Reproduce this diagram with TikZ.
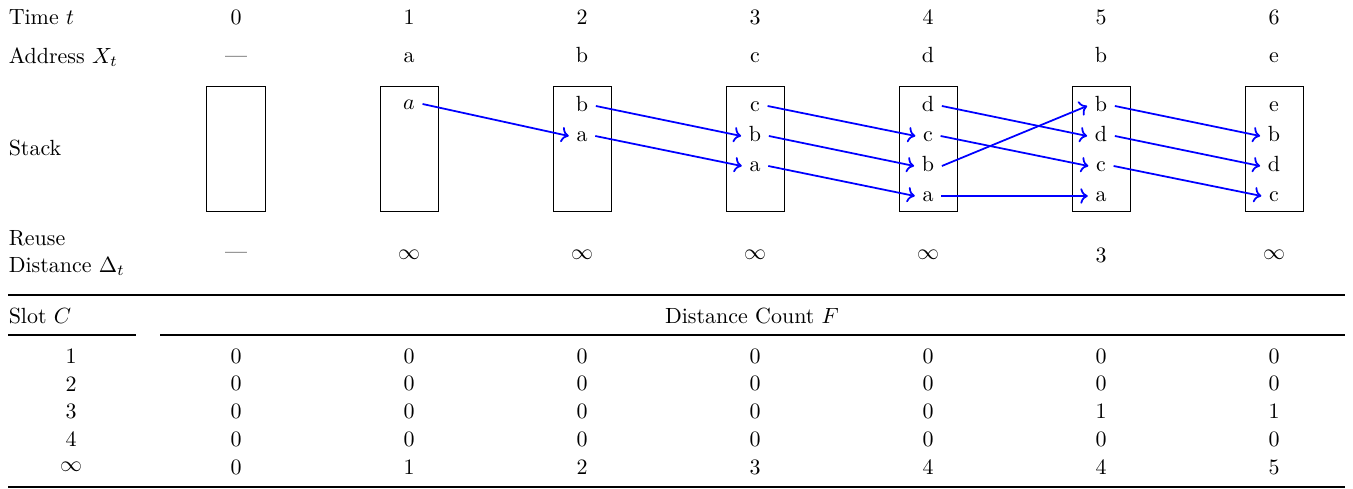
\documentclass[tikz,border=0pt]{standalone}
\usepackage{amsmath,amssymb}
\usepackage{xcolor}
\usetikzlibrary{arrows.meta}

\begin{document}
\begin{tikzpicture}[x=0.16mm,y=-0.16mm,
  stackbox/.style={draw,minimum width=9.3mm,minimum height=20mm},
  entry/.style={text height=1.5ex,text depth=0.25ex},
  flow/.style={->,thick,blue}]
\useasboundingbox (0,0) rectangle (1353,489);
% row labels
\node[anchor=west] (ltime) at (1,17) {Time $t$};
\node[anchor=west] (laddr) at (1,57) {Address $X_t$};
\node[anchor=west] (lstack) at (1,148) {Stack};
\node[anchor=west,align=left] (lreuse) at (1,253) {Reuse\\Distance $\Delta_t$};
% time, address, stack boxes
\foreach \t/\a in {0/---,1/a,2/b,3/c,4/d,5/b,6/e} {
  \node (t\t) at ({236+173*\t},17) {\t};
  \node[entry] (x\t) at ({236+173*\t},57) {\a};
  \node[stackbox] (box\t) at ({236+173*\t},148.5) {};
}
% stack contents
\node[entry] (s1a) at (409,104) {$a$};
\foreach \t/\r/\e in {2/0/b,2/1/a,
                      3/0/c,3/1/b,3/2/a,
                      4/0/d,4/1/c,4/2/b,4/3/a,
                      5/0/b,5/1/d,5/2/c,5/3/a,
                      6/0/e,6/1/b,6/2/d,6/3/c}
  \node[entry] (s\t\e) at ({236+173*\t},{106+30*\r}) {\e};
% stack moves
\foreach \u/\v in {s1a/s2a,s2b/s3b,s2a/s3a,
                   s3c/s4c,s3b/s4b,s3a/s4a,
                   s4d/s5d,s4c/s5c,s4b/s5b,s4a/s5a,
                   s5b/s6b,s5d/s6d,s5c/s6c}
  \draw[flow] (\u.east) -- (\v.west);
% reuse distance
\foreach \t/\d in {0/---,1/$\infty$,2/$\infty$,3/$\infty$,4/$\infty$,5/3,6/$\infty$}
  \node (d\t) at ({236+173*\t},255) {\d};

% distance count table
\draw[line width=0.8pt] (8,295) -- (1345,295);
\node[anchor=west] (slot) at (1,316) {Slot $C$};
\node (count) at (752,316) {Distance Count $F$};
\draw[line width=0.5pt] (8,335) -- (136,335) (160,335) -- (1345,335);
\foreach \c/\s in {1/1,2/2,3/3,4/4,5/$\infty$}
  \node (c\c) at (71,{356+27.8*(\c-1)}) {\s};
\foreach \c/\row in {1/{0,0,0,0,0,0,0},2/{0,0,0,0,0,0,0},3/{0,0,0,0,0,1,1},
                     4/{0,0,0,0,0,0,0},5/{0,1,2,3,4,4,5}}
  \foreach \v [count=\t from 0] in \row
    \node (f\c-\t) at ({236+173*\t},{356+27.8*(\c-1)}) {\v};
\draw[line width=0.8pt] (8,487) -- (1345,487);
\end{tikzpicture}
\end{document}
